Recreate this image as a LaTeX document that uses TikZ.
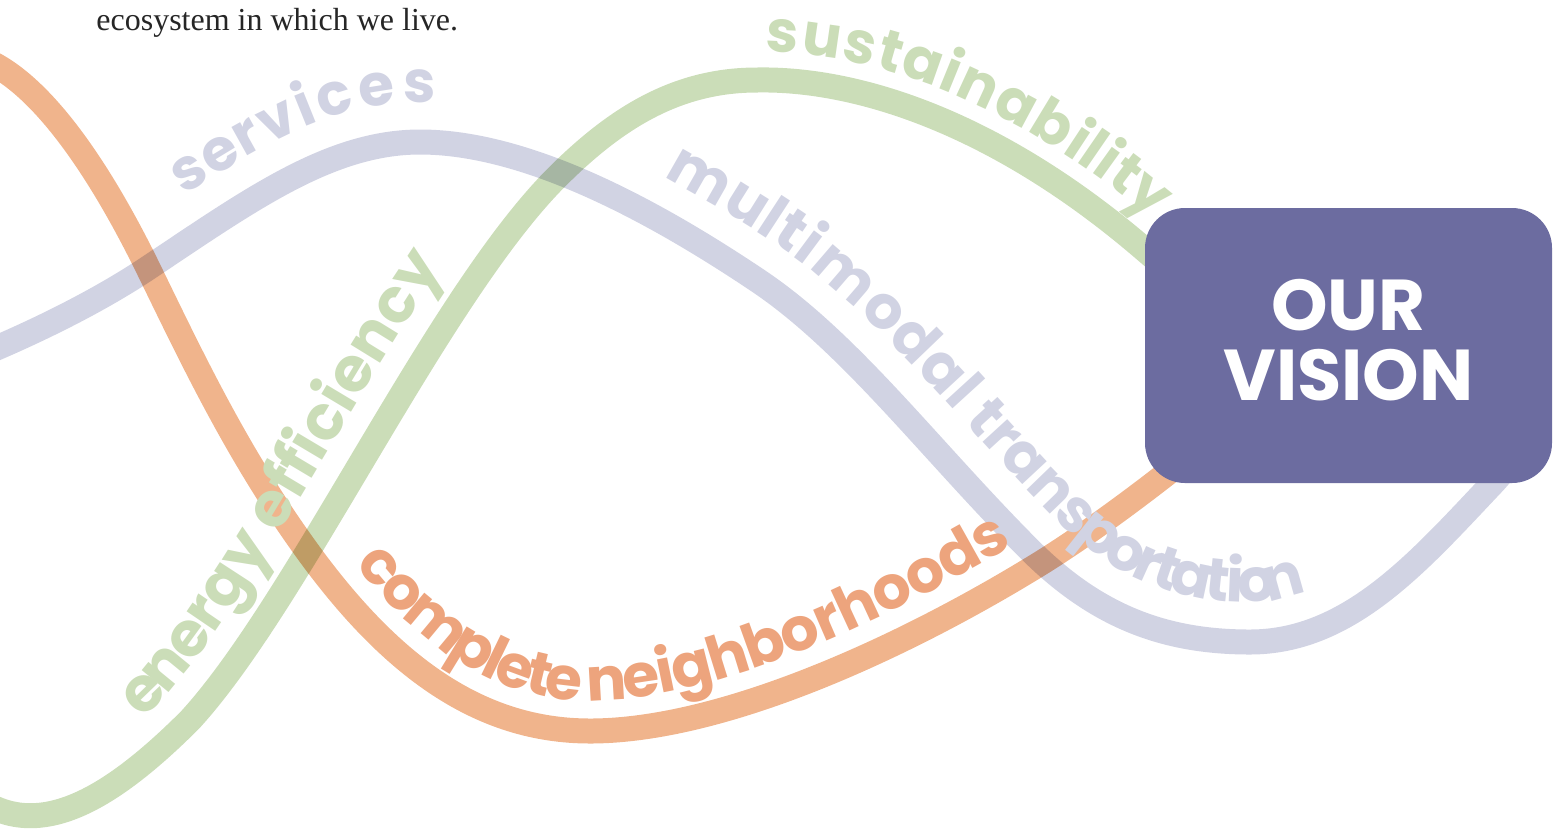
\documentclass[tikz,border=0pt]{standalone}
\usepackage{fontspec}
\setmainfont{Liberation Serif}
\newfontfamily\curvefont{Poppins}
\usetikzlibrary{decorations.text}

\definecolor{orangeband}{HTML}{F0B48C}
\definecolor{orangetext}{HTML}{EDA47D}
\definecolor{lavband}{HTML}{D1D3E3}
\definecolor{greenband}{HTML}{CBDDB8}
\definecolor{visionfill}{HTML}{6C6CA0}

% one unit = one pixel of the 1562x837 layout, drawn at half a point
\newcommand\lblfont[1]{\curvefont\bfseries\fontsize{#1}{#1}\selectfont}
\def\orangeline{(-20,58) .. controls (40,80) and (100,170) .. (148,268)
  .. controls (190,354) and (235,450) .. (303,545)
  .. controls (390,667) and (480,731) .. (590,731)
  .. controls (720,731) and (900,650) .. (1041,563)
  .. controls (1110,520) and (1200,450) .. (1280,380)}
\def\lavline{(-20,355) .. controls (40,330) and (100,300) .. (148,268)
  .. controls (250,200) and (330,142) .. (420,142)
  .. controls (530,142) and (660,215) .. (757,280)
  .. controls (850,342) and (930,450) .. (1030,550)
  .. controls (1100,620) and (1170,642) .. (1250,642)
  .. controls (1350,642) and (1420,560) .. (1493,483)
  .. controls (1510,465) and (1525,440) .. (1530,420)}
\def\greenline{(-20,800) .. controls (40,840) and (110,800) .. (190,720)
  .. controls (300,600) and (440,290) .. (561,173)
  .. controls (620,115) and (680,80) .. (757,80)
  .. controls (860,78) and (1000,125) .. (1145,250)
  .. controls (1200,297) and (1240,330) .. (1290,380)}

\begin{document}
\begin{tikzpicture}[x=0.5pt,y=-0.5pt]
  \tikzset{band/.style = {line width=12.5pt, blend mode=multiply}}
  \tikzset{curvetext/.style = {decorate, blend mode=multiply}}
  \tikzset{visionbox/.style = {rectangle, rounded corners=20pt, fill=visionfill, minimum width=203.5pt, minimum height=137.5pt, inner sep=0pt}}
  \tikzset{visiontext/.style = {inner sep=0pt, text=white, align=center, font=\curvefont\bfseries\fontsize{36}{35}\selectfont}}
  \useasboundingbox (0,0) rectangle (1562,837);
  \clip (0,0) rectangle (1562,837);

  \node[anchor=base west, inner sep=0pt, font=\fontsize{16}{16}\selectfont, text=black!85] (t) at (96,30) {ecosystem in which we live.};

  % bands
  \draw[band, draw=greenband] \greenline;
  \draw[band, draw=lavband] \lavline;
  \draw[band, draw=orangeband] \orangeline;

  % words along the bands
  \path[curvetext, decoration={text along path, text color=lavband, raise=20pt,
    text align={left indent=130pt}, text={|\lblfont{29}\addfontfeature{LetterSpace=8}|services}}] \lavline;
  \path[curvetext, decoration={text along path, text color=lavband, raise=20pt,
    text align={left indent=365pt}, text={|\lblfont{30}|multimodal{\ }transportation}}] \lavline;
  \path[curvetext, decoration={text along path, text color=greenband, raise=17pt,
    text align={left indent=105pt}, text={|\lblfont{31}|energy{\ }efficiency}}] \greenline;
  \path[curvetext, decoration={text along path, text color=greenband, raise=14pt,
    text align={left indent=568pt}, text={|\lblfont{29}\addfontfeature{LetterSpace=1}|sustainability}}] \greenline;
  \path[curvetext, decoration={text along path, text color=orangetext, raise=15pt,
    text align={left indent=320pt}, text={|\lblfont{30}|complete{\ }neighborhoods}}] \orangeline;

  \node[visionbox] (v) at (1348.5,345.5) {};
  \node[visiontext] (w) at ([yshift=2.5pt]v.center) {OUR\\VISION};
\end{tikzpicture}
\end{document}
